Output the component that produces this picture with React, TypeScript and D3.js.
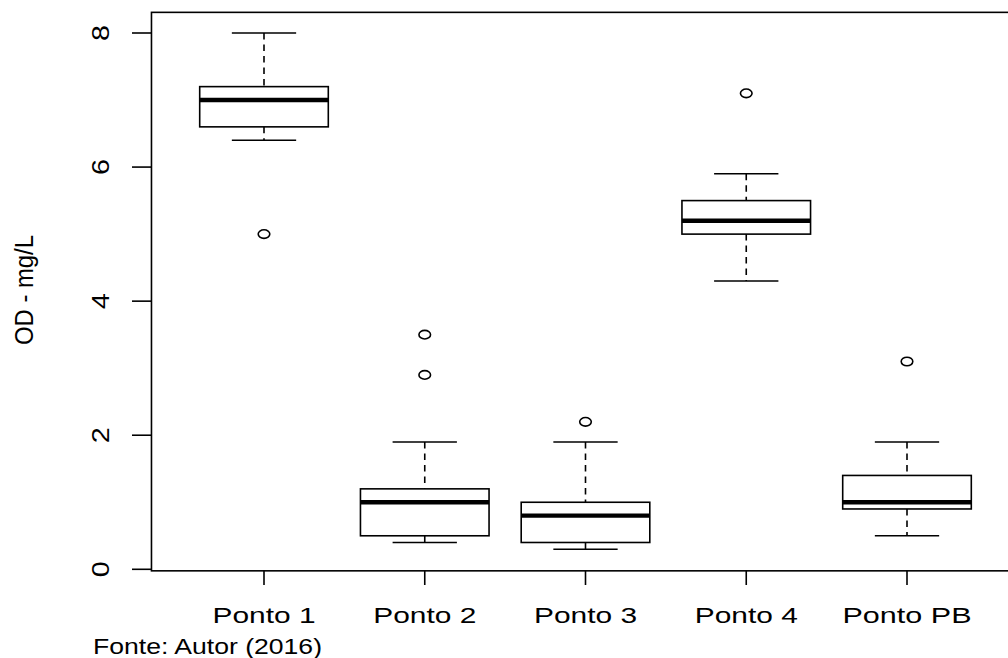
import React from 'react';
import * as d3 from 'd3';

// boxplot statistics (OD, mg/L)
const categories = ['Ponto 1', 'Ponto 2', 'Ponto 3', 'Ponto 4', 'Ponto PB'];
const whiskerLow = [6.4, 0.4, 0.3, 4.3, 0.5];
const q1 = [6.6, 0.5, 0.4, 5.0, 0.9];
const median = [7.0, 1.0, 0.8, 5.2, 1.0];
const q3 = [7.2, 1.2, 1.0, 5.5, 1.4];
const whiskerHigh = [8.0, 1.9, 1.9, 5.9, 1.9];
const outliers = [[5.0], [3.5, 2.9], [2.2], [7.1], [3.1]];
const yTicks = [0, 2, 4, 6, 8];
const labelWidths = [103, 103, 103, 103, 129];

const W = 1008, H = 658;
const font = '"Liberation Sans", Arial, sans-serif';
const lw = 1.6;

export default function App() {
  const x = d3.scaleLinear().domain([1, 5]).range([264, 907]);
  const y = d3.scaleLinear().domain([0, 8]).range([569.3, 33]);

  const unit = x(2) - x(1);
  const boxW = unit * 0.8;
  const capW = boxW * 0.5;

  const left = x(0.3), right = x(5.7);
  const top = y(8.308), bottom = y(-0.008) + 1;

  return (
    <svg width={W} height={H} style={{position: 'absolute', left: 0, top: 0, background: '#fff'}}>
      <rect x={0} y={0} width={W} height={H} fill='#fff' />

      {/* boxes */}
      {categories.map((c, i) => {
        const cx = x(i + 1);
        return (
          <g key={c}>
            <line x1={cx} x2={cx} y1={y(whiskerHigh[i])} y2={y(q3[i])} stroke='#000' strokeWidth={lw} strokeDasharray='6.5,5' />
            <line x1={cx} x2={cx} y1={y(q1[i])} y2={y(whiskerLow[i])} stroke='#000' strokeWidth={lw} strokeDasharray='6.5,5' />
            <line x1={cx - capW / 2} x2={cx + capW / 2} y1={y(whiskerHigh[i])} y2={y(whiskerHigh[i])} stroke='#000' strokeWidth={lw} />
            <line x1={cx - capW / 2} x2={cx + capW / 2} y1={y(whiskerLow[i])} y2={y(whiskerLow[i])} stroke='#000' strokeWidth={lw} />
            <rect x={cx - boxW / 2} y={y(q3[i])} width={boxW} height={y(q1[i]) - y(q3[i])}
              fill='#fff' stroke='#000' strokeWidth={lw} />
            <line x1={cx - boxW / 2} x2={cx + boxW / 2} y1={y(median[i])} y2={y(median[i])} stroke='#000' strokeWidth={4.4} />
            {outliers[i].map((v, j) => (
              <ellipse key={j} cx={cx} cy={y(v)} rx={5.8} ry={4.3} fill='none' stroke='#000' strokeWidth={lw} />
            ))}
          </g>
        );
      })}

      {/* frame */}
      <rect x={left} y={top} width={right - left} height={bottom - top} fill='none' stroke='#000' strokeWidth={lw} />

      {/* y axis */}
      {yTicks.map(t => (
        <g key={t}>
          <line x1={132} x2={left} y1={y(t)} y2={y(t)} stroke='#000' strokeWidth={lw} />
          <text transform={`translate(108.5,${y(t)}) rotate(-90)`} textAnchor='middle'
            fontFamily={font} fontSize={24} textLength={16} lengthAdjust='spacingAndGlyphs'>{t}</text>
        </g>
      ))}
      <text transform={`translate(32.5,290) rotate(-90)`} textAnchor='middle'
        fontFamily={font} fontSize={25} textLength={110} lengthAdjust='spacingAndGlyphs'>OD - mg/L</text>

      {/* x axis */}
      {categories.map((c, i) => (
        <g key={c}>
          <line x1={x(i + 1)} x2={x(i + 1)} y1={bottom} y2={585} stroke='#000' strokeWidth={lw} />
          <text x={x(i + 1)} y={623} textAnchor='middle' fontFamily={font} fontSize={22}
            textLength={labelWidths[i]} lengthAdjust='spacingAndGlyphs'>{c}</text>
        </g>
      ))}

      <text x={93} y={654} fontFamily={font} fontSize={22} textLength={229} lengthAdjust='spacingAndGlyphs'>Fonte: Autor (2016)</text>
    </svg>
  );
}
